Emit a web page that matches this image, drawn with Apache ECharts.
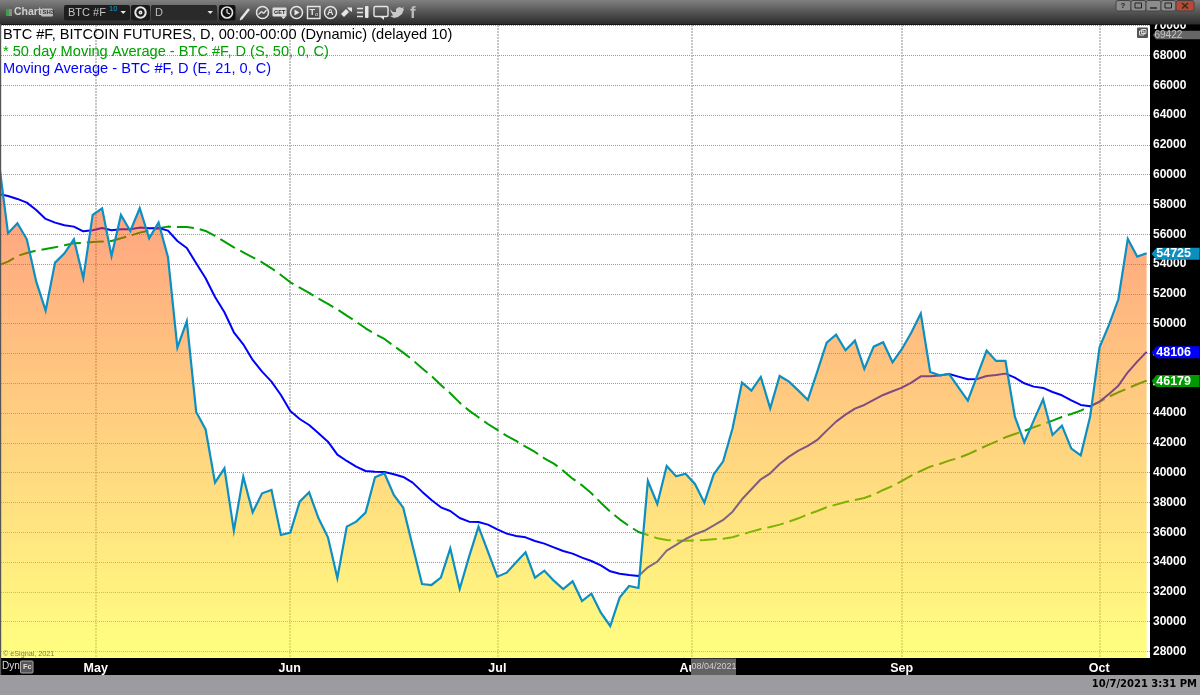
<!DOCTYPE html>
<html><head><meta charset="utf-8">
<style>html,body{margin:0;padding:0;background:#000}#c{width:1200px;height:695px}</style>
<script src="https://cdn.jsdelivr.net/npm/echarts@6/dist/echarts.min.js"></script>
</head><body><div id="c"></div>
<script>
const titleLine = 'BTC #F, BITCOIN FUTURES, D, 00:00-00:00 (Dynamic) (delayed 10)';
const smaLine = '* 50 day Moving Average - BTC #F, D (S, 50, 0, C)';
const emaLine = 'Moving Average - BTC #F, D (E, 21, 0, C)';
const timeStamp = '10/7/2021 3:31 PM';
const hoverDate = '08/04/2021';
const highFlag = '69422';
const yTicks = [28000,30000,32000,34000,36000,38000,40000,42000,44000,46000,48000,50000,52000,54000,56000,58000,60000,62000,64000,66000,68000,70000];
const monthNames = ['May','Jun','Jul','Aug','Sep','Oct'];
const monthAt = [10.32,30.93,53,73.65,95.97,116.97];
const price = [61000,56064,56735,55661,52820,50874,54095,54721,55661,53044,57294,57741,54543,57294,56220,57741,55728,56780,54453,48391,50158,44074,42900,
39331,40293,36109,39733,37340,38615,38838,35818,35975,38056,38682,36937,35662,32933,36378,36713,37317,39689,39957,38503,37653,35080,32530,32463,32955,34924,32194,34364,36378,34700,33022,33291,33984,34655,32955,33425,32754,32194,32709,31389,31882,30606,29711,31613,32396,32262,
39443,37900,40450,39756,39935,39242,37989,39890,40763,42977,46042,45505,46423,44320,46490,46109,45505,44879,46780,48727,49264,48212,48861,46959,48458,48749,47407,48300,49400,50680,
46758,46534,46624,45729,44834,46512,48190,47496,47496,43761,42038,43492,44924,42530,43157,41613,41166,43761,48414,49912,51635,55684,54498,54725];
const ema21 = [58700,58569,58368,58122,57630,57026,56779,56600,56511,56198,56265,56421,56265,56332,56332,56444,56399,56421,56243,55549,55079,54050,53044,51791,50762,49420,48614,47563,46780,46109,45214,44140,43603,43201,42642,42082,
41210,40785,40404,40114,40069,40046,39890,39711,39331,38727,38167,37675,37429,36959,36713,36691,36512,36199,35908,35752,35662,35416,35237,34991,34745,34566,34297,34074,33783,33380,33223,33134,33067,
33650,34027,34765,35150,35550,35866,36100,36460,36826,37385,38213,38884,39555,39957,40584,41076,41479,41792,42195,42821,43425,43895,44297,44543,44879,45215,45461,45707,46042,46467,46467,
46512,46624,46445,46266,46288,46490,46557,46646,46378,45998,45774,45685,45416,45192,44857,44544,44454,44767,45282,45841,46736,47452,48106];
const sma50 = [53916,54162,54543,54744,54900,55012,55124,55258,55392,55415,55482,55504,55549,55728,55907,56108,56243,56399,56511,56489,56489,56399,56220,55885,55504,55124,54789,54453,54117,53715,53267,
52775,52417,52059,51679,51321,50963,50538,50136,49688,49308,48972,48503,48055,47563,47004,46489,45885,45326,44700,44163,43715,43268,42866,42463,42127,
41747,41389,40964,40606,40136,39599,39152,38615,37988,37385,36870,36423,36020,35820,35600,35480,35450,35440,35450,35480,35529,35573,35663,35864,36043,36222,36355,36512,36714,36938,37206,37430,37676,37855,38034,38168,38302,38526,38839,39107,39443,39801,40114,40405,
40584,40808,40987,41233,41524,41815,42083,42374,42598,42799,43045,43268,43492,43738,43940,44163,44454,44767,45103,45394,45662,45931,46179];

const flagPath = 'path://M0 6L5 0L48 0L48 12L5 12Z';
function flag(color, value){
  return {symbol:flagPath, symbolSize:[48,12], symbolOffset:[29,0.5], silent:true,
    itemStyle:{color:color},
    label:{show:true,position:'inside',offset:[-2,0],color:'#fff',fontFamily:'Liberation Sans',fontWeight:'bold',fontSize:12.5,formatter:String(value)},
    data:[{coord:[price.length-1,value]}]};
}
const toPairs = a => a.map((v,i)=>[i,v]);
const F='Liberation Sans';
const W='#e6e6e6';
const T=100;
function tx(x,y,text,size,color,extra){return {type:'text',z:T+2,x:x,y:y,silent:true,style:Object.assign({text:text,fill:color,fontFamily:F,fontSize:size,verticalAlign:'middle',textAlign:'left'},extra||{})};}
function rc(x,y,w,h,fill,r,stroke){return {type:'rect',z:T+1,silent:true,shape:{x:x,y:y,width:w,height:h,r:r||0},style:{fill:fill,stroke:stroke||null,lineWidth:1}};}
function ring(cx,cy,r,w,col){return {type:'circle',z:T+2,silent:true,shape:{cx:cx,cy:cy,r:r},style:{fill:null,stroke:col||W,lineWidth:w||1.5}};}
function ln(x1,y1,x2,y2,w,col){return {type:'line',z:T+2,silent:true,shape:{x1:x1,y1:y1,x2:x2,y2:y2},style:{stroke:col||W,lineWidth:w||1.5}};}
function poly(pts,fill){return {type:'polygon',z:T+2,silent:true,shape:{points:pts},style:{fill:fill||W}};}
const g=(stops)=>({type:'linear',x:0,y:0,x2:0,y2:1,colorStops:stops});
const graphics=[
 // window chrome
 {type:'rect',z:T,silent:true,shape:{x:0,y:0,width:1200,height:24.5},style:{fill:g([{offset:0,color:'#808080'},{offset:.3,color:'#666666'},{offset:.55,color:'#505050'},{offset:1,color:'#2b2b2b'}])}},
 rc(0,675,1200,20,'#9c9ca0'),
 rc(0,24,1.2,651,'#555'),
 // left of the toolbar
 rc(6,9,3,7,'#3f9a4a'),rc(9,9,3,7,'#8a8a8a'),
 tx(14,12.5,'Chart',10.5,'#cfcfcf',{fontWeight:'bold'}),
 rc(41,8.5,12,8,'#bbb',1.5),tx(42.5,12.5,'SH3',6,'#333',{fontWeight:'bold'}),
 rc(64,5,66,15.5,'#1e1e1e',2),
 tx(68,12.5,'BTC #F',11,'#c4c4c4'),tx(109,8.5,'10',7.5,'#18a0d8'),poly([[120.5,11],[126,11],[123.2,14]]),
 rc(131,5,19,15.5,'#1a1a1a',2),ring(140.5,12.5,5.2,2),ring(140.5,12.5,1.2,1.5),
 rc(151,5,66,15.5,'#2a2a2a',2),tx(155,12.5,'D',11,'#bdbdbd'),poly([[207.5,11],[213,11],[210.2,14]]),
 rc(219,5,16.5,15.5,'#111',2),ring(227,12.5,5.5,1.6),ln(227,9,227,12.7,1.2),ln(227,12.7,230,14,1.2),
 ln(241,19,249,9,2.5),ln(240,20,242,18,1.2),
 ring(262.5,12.5,6,1.5),ln(258.5,14.5,261.5,11.5,1.2),ln(261.5,11.5,263.5,13.5,1.2),ln(263.5,13.5,266.5,10,1.2),
 rc(272.5,7.5,14,9,'#ddd',1),tx(274,12,'GET',5.6,'#222',{fontWeight:'bold'}),poly([[281,16.5],[286,16.5],[283.5,19]]),
 ring(296.5,12.5,6,1.5),poly([[294.5,9.5],[294.5,15.5],[299.5,12.5]]),
 {type:'rect',z:T+2,silent:true,shape:{x:307.5,y:6.5,width:12.5,height:12},style:{fill:null,stroke:W,lineWidth:1.4}},
 tx(309.5,12.5,'T',9,W,{fontWeight:'bold'}),tx(315,14.5,'o',5.5,W),
 ring(330.5,12.5,6,1.5),tx(327,12.5,'A',9,W,{fontWeight:'bold'}),
 poly([[341,14],[346,9],[349,12],[344,17]]),poly([[347,7.5],[352,7.5],[352,12],[349,10]]),
 ln(357,8.5,363,8.5,1.5),ln(357,12.5,363,12.5,1.5),ln(357,16.5,363,16.5,1.5),rc(365,6,3.5,12,W,1),
 {type:'rect',z:T+2,silent:true,shape:{x:374,y:6.5,width:14,height:10,r:1.5},style:{fill:null,stroke:W,lineWidth:1.4}},poly([[380,16.5],[384,16.5],[384,20]]),
 poly([[390,9],[393,12],[396,12],[396,9],[399,7],[402,8],[404,7],[403,9],[404,9],[402,14],[398,17],[394,18],[390,16],[393,15.5],[391,12]],'#c9c9c9'),
 tx(410,13,'f',17,'#bcbcbc',{fontWeight:'bold'}),
 // window buttons
 rc(1116,.5,15,10.5,'#8c8c8c',2,'#444'),tx(1120.5,5.5,'?',8,'#222',{fontWeight:'bold'}),
 rc(1131,.5,15,10.5,'#8c8c8c',2,'#444'),{type:'rect',z:T+2,silent:true,shape:{x:1135,y:3,width:6.5,height:5},style:{fill:null,stroke:'#222',lineWidth:1}},
 rc(1146,.5,15,10.5,'#8c8c8c',2,'#444'),ln(1150,8,1157,8,1.4,'#222'),
 rc(1161,.5,15,10.5,'#8c8c8c',2,'#444'),{type:'rect',z:T+2,silent:true,shape:{x:1165,y:3,width:6.5,height:5},style:{fill:null,stroke:'#222',lineWidth:1}},
 rc(1176,.5,18,10.5,'#b8483a',2,'#444'),ln(1182,3,1188,8.5,1.6,'#331'),ln(1188,3,1182,8.5,1.6,'#331'),
 // flags and tags in the plot frame
 rc(1137,27.5,11,10.5,'#555',1),{type:'rect',z:T+2,silent:true,shape:{x:1139.5,y:31,width:4.5,height:4},style:{fill:null,stroke:'#ddd',lineWidth:1}},{type:'rect',z:T+2,silent:true,shape:{x:1141.5,y:29.5,width:4.5,height:4},style:{fill:null,stroke:'#ddd',lineWidth:1}},
 poly([[1153,35],[1156,30.7],[1200,30.7],[1200,39.3],[1156,39.3]],'#666'),
 tx(1154.5,35,highFlag,10,'#c4c4c4'),
 // legend
 tx(3,35,titleLine,14.6,'#000'),tx(3,52,smaLine,14.6,'#00a000'),tx(3,69,emaLine,14.6,'#0000ff'),
 // bottom strip
 tx(3,654,'\u00a9 eSignal, 2021',7.2,'#7d7a50'),
 tx(2,666.5,'Dyn',10,'#ddd'),
 rc(20.5,661,12.5,12,'#555',1,'#aaa'),tx(23,667,'Fc',7.5,'#ddd',{fontWeight:'bold'}),
 rc(691,658.5,45,16.5,'#636363'),
 tx(691.5,666.5,hoverDate,9,'#cfcfcf'),
 tx(1197,684.5,timeStamp,10,'#000',{fontFamily:'DejaVu Sans',fontWeight:'bold',textAlign:'right'})
];
const chart=echarts.init(document.getElementById('c'),null,{renderer:'canvas'});
chart.setOption({
 animation:false,
 backgroundColor:'#000',
 grid:{left:1,right:50,top:25,bottom:37,show:true,backgroundColor:'#fff',borderWidth:0},
 xAxis:{type:'value',min:0.255,max:122.36,
  axisLine:{show:false},
  axisTick:{show:false,customValues:monthAt},
  axisLabel:{customValues:monthAt,margin:4,color:'#fff',fontFamily:F,fontWeight:'bold',fontSize:12.5,
    showMinLabel:true,showMaxLabel:true,
    formatter:v=>monthNames[monthAt.indexOf(v)]||''},
  splitLine:{show:true,lineStyle:{color:'#b4b4b4',width:1.5,type:[2,1]}}},
 yAxis:{type:'value',position:'right',min:27564,max:70040,
  axisLine:{show:false},
  axisTick:{show:false,customValues:yTicks},
  axisLabel:{customValues:yTicks,inside:false,margin:3,align:'left',color:'#fff',fontFamily:F,fontWeight:'bold',fontSize:12,formatter:v=>String(v)},
  splitLine:{show:true,lineStyle:{color:'#9a9a9a',width:1,type:[1,1]}}},
 graphic:{elements:graphics},
 series:[
  {name:'SMA 50',type:'line',z:3,data:toPairs(sma50),showSymbol:false,symbol:'none',silent:true,
   lineStyle:{color:'#00a000',width:2,type:[17,6]},markPoint:flag('#009a00',sma50[sma50.length-1])},
  {name:'EMA 21',type:'line',z:3,data:toPairs(ema21),showSymbol:false,symbol:'none',silent:true,
   lineStyle:{color:'#0000ff',width:2},markPoint:flag('#0000ff',ema21[ema21.length-1])},
  {name:'BTC #F',type:'line',z:4,data:toPairs(price),showSymbol:false,symbol:'none',silent:true,
   lineStyle:{color:'#0d8fc2',width:2.2,join:'miter'},
   areaStyle:{origin:'start',opacity:0.5,color:{type:'linear',x:0,y:25,x2:0,y2:658,global:true,colorStops:[{offset:0,color:'#ff0000'},{offset:1,color:'#ffff00'}]}},
   markPoint:flag('#0a8fbf',price[price.length-1])}
 ]
});
</script></body></html>
